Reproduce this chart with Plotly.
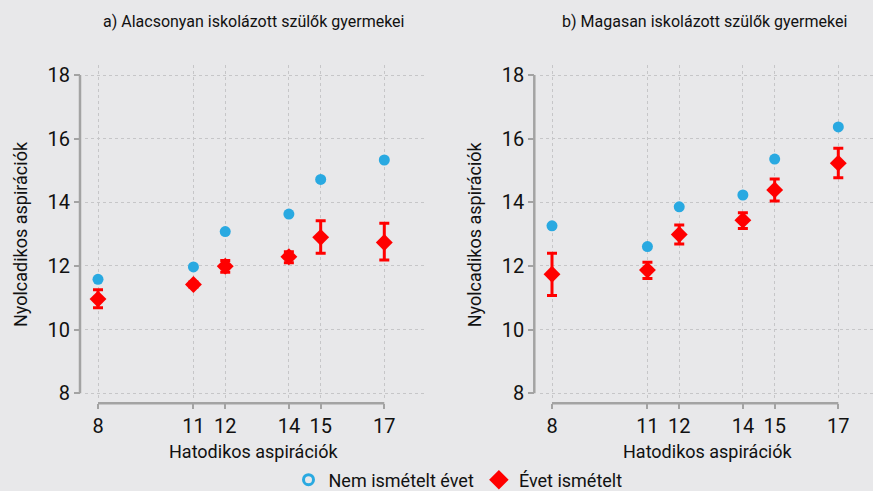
import plotly.graph_objects as go

W, H = 873, 491

x_vals = [8, 11, 12, 14, 15, 17]
x_ticklabels = ["8", "11", "12", "14", "15", "17"]
y_ticks = [8, 10, 12, 14, 16, 18]

# a) Alacsonyan iskolázott szülők gyermekei
a_nem = [11.58, 11.97, 13.08, 13.63, 14.72, 15.33]
a_nem_err = [0.05, 0.05, 0.05, 0.05, 0.05, 0.05]
a_evet = [10.96, 11.42, 11.99, 12.29, 12.90, 12.74]
a_evet_hi = [11.25, 11.50, 12.17, 12.45, 13.42, 13.34]
a_evet_lo = [10.69, 11.34, 11.80, 12.10, 12.40, 12.19]

# b) Magasan iskolázott szülők gyermekei
b_nem = [13.26, 12.61, 13.86, 14.23, 15.36, 16.37]
b_nem_err = [0.08, 0.04, 0.05, 0.05, 0.05, 0.05]
b_evet = [11.74, 11.87, 12.99, 13.44, 14.39, 15.23]
b_evet_hi = [12.40, 12.12, 13.29, 13.67, 14.73, 15.70]
b_evet_lo = [11.07, 11.61, 12.69, 13.18, 14.04, 14.77]

subtitles = ["a) Alacsonyan iskolázott szülők gyermekei",
             "b) Magasan iskolázott szülők gyermekei"]
x_title = "Hatodikos aspirációk"
y_title = "Nyolcadikos aspirációk"
legend_names = ["Nem ismételt évet", "Évet ismételt"]

BLUE = "#29a9e1"
RED = "#ff0000"
BG = "#e8e8ea"
GRID = "#c6c6c8"
AXIS = "#a3a3a3"
FONT = "Roboto, Liberation Sans, sans-serif"

fig = go.Figure()

panels = [
    (a_nem, a_nem_err, a_evet, a_evet_hi, a_evet_lo, "x", "y"),
    (b_nem, b_nem_err, b_evet, b_evet_hi, b_evet_lo, "x2", "y2"),
]
for nem, nem_err, evet, hi, lo, xa, ya in panels:
    fig.add_trace(go.Scatter(
        x=x_vals, y=nem, mode="markers", xaxis=xa, yaxis=ya, showlegend=False,
        marker=dict(symbol="circle", size=11, color=BLUE, line=dict(width=0)),
        error_y=dict(type="data", array=nem_err, color="#bfe3f5", thickness=1, width=2.5),
    ))
    fig.add_trace(go.Scatter(
        x=x_vals, y=evet, mode="markers", xaxis=xa, yaxis=ya, showlegend=False,
        marker=dict(symbol="diamond", size=13, color=RED, line=dict(width=0)),
        error_y=dict(type="data", symmetric=False,
                     array=[h - c for h, c in zip(hi, evet)],
                     arrayminus=[c - l for l, c in zip(lo, evet)],
                     color=RED, thickness=3, width=5),
    ))

# legend entries
fig.add_trace(go.Scatter(x=[None], y=[None], mode="markers", name=legend_names[0],
                         marker=dict(symbol="circle-open", size=10, color=BLUE,
                                     line=dict(width=3, color=BLUE))))
fig.add_trace(go.Scatter(x=[None], y=[None], mode="markers", name=legend_names[1],
                         marker=dict(symbol="diamond", size=15, color=RED)))

def px_x(p):
    return p / W

def px_y(p):
    return 1 - p / H

# geometry (pixels)
left = dict(dom=(85, 427), x8=98.0, x17=384.3, yaxis_px=80.0)
right = dict(dom=(540, 873), x8=552.0, x17=838.3, yaxis_px=534.3)
y18, y8 = 75.0, 393.3
ydom = (65, 401)
xaxis_py = 403.3

ysc = (y8 - y18) / 10.0
yrange = [8 - (ydom[1] - y8) / ysc, 18 + (y18 - ydom[0]) / ysc]

common_x = dict(tickvals=x_vals, ticktext=x_ticklabels, ticks="outside", ticklen=5,
                tickwidth=2, tickcolor=AXIS, showline=False, zeroline=False,
                showgrid=True, gridcolor=GRID, griddash="dot", gridwidth=1,
                tickfont=dict(size=20, color="#111"), anchor="free",
                position=px_y(xaxis_py), automargin=False)
common_y = dict(tickvals=y_ticks, ticks="outside", ticklen=6, tickwidth=2,
                tickcolor=AXIS, showline=False, zeroline=False, showgrid=True,
                gridcolor=GRID, griddash="dot", gridwidth=1,
                tickfont=dict(size=20, color="#111"), anchor="free",
                domain=[px_y(ydom[1]), px_y(ydom[0])], range=yrange,
                automargin=False)

layout_axes = {}
shapes = []
annotations = []
for i, p in enumerate([left, right]):
    sc = (p["x17"] - p["x8"]) / 9.0
    xr = [8 - (p["x8"] - p["dom"][0]) / sc, 8 + (p["dom"][1] - p["x8"]) / sc]
    suf = "" if i == 0 else "2"
    layout_axes["xaxis" + suf] = dict(common_x, domain=[px_x(p["dom"][0]), px_x(p["dom"][1])],
                                      range=xr)
    layout_axes["yaxis" + suf] = dict(common_y, position=px_x(p["yaxis_px"]))
    shapes.append(dict(type="line", xref="paper", yref="y" + suf,
                       x0=px_x(p["yaxis_px"]), x1=px_x(p["yaxis_px"]),
                       y0=min(y_ticks), y1=max(y_ticks),
                       line=dict(color=AXIS, width=2.5)))
    shapes.append(dict(type="line", xref="x" + suf, yref="paper",
                       x0=min(x_vals), x1=max(x_vals),
                       y0=px_y(xaxis_py), y1=px_y(xaxis_py),
                       line=dict(color=AXIS, width=2.5)))
    cx = (p["dom"][0] + p["dom"][1]) / 2 - 2
    annotations.append(dict(text=subtitles[i], xref="paper", yref="paper",
                            x=px_x(cx), y=px_y(21), showarrow=False,
                            xanchor="center", yanchor="middle",
                            font=dict(size=16, color="#111")))
    annotations.append(dict(text=x_title, xref="paper", yref="paper",
                            x=px_x((p["x8"] + p["x17"]) / 2 + 12), y=px_y(451),
                            showarrow=False, xanchor="center", yanchor="middle",
                            font=dict(size=18, color="#111")))
    annotations.append(dict(text=y_title, xref="paper", yref="paper",
                            x=px_x(p["yaxis_px"] - 60), y=px_y(234), textangle=-90,
                            showarrow=False, xanchor="center", yanchor="middle",
                            font=dict(size=18, color="#111")))

fig.update_layout(
    width=W, height=H,
    margin=dict(l=0, r=0, t=0, b=0, autoexpand=False),
    paper_bgcolor=BG, plot_bgcolor=BG,
    font=dict(family=FONT, color="#111"),
    showlegend=True,
    legend=dict(orientation="h", x=px_x(458), y=px_y(480), xanchor="center",
                yanchor="middle", font=dict(size=18, color="#111"),
                bgcolor="rgba(0,0,0,0)", itemwidth=30, tracegroupgap=0),
    shapes=shapes, annotations=annotations,
    **layout_axes,
)

fig.write_html("out.html", config={"displayModeBar": False},
               post_script="document.body.style.margin='0';document.body.style.overflow='hidden';")
